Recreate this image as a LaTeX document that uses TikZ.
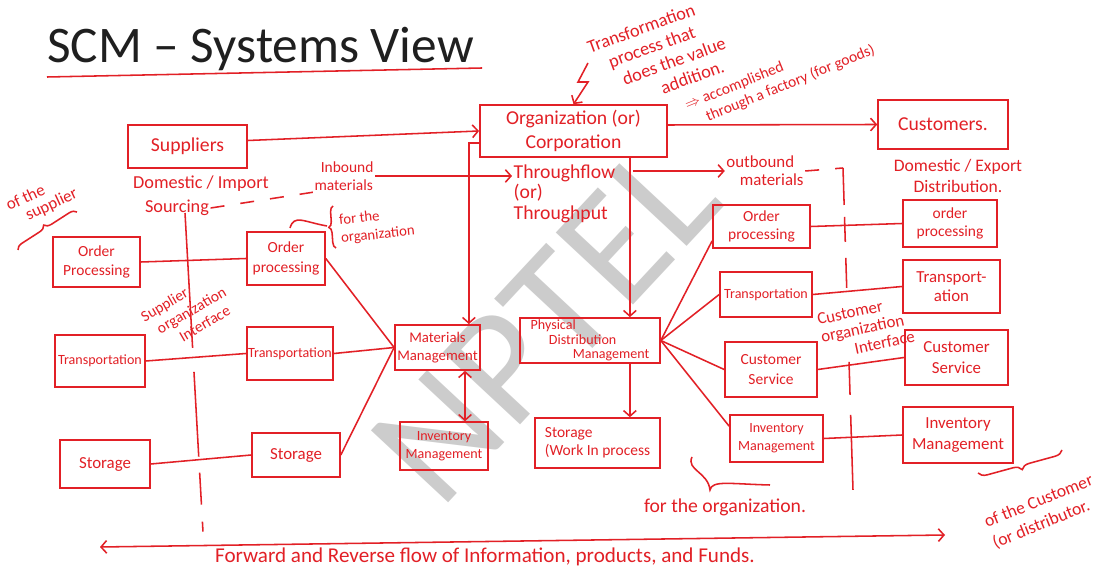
\documentclass[tikz,border=0pt]{standalone}
\usepackage{fontspec}
\setmainfont{Carlito}
\usetikzlibrary{arrows.meta,decorations.pathreplacing}
\definecolor{inkred}{RGB}{226,32,38}
\tikzset{
  box/.style 2 args={draw=inkred, line width=1.1pt, text=inkred, align=center, inner sep=1pt, minimum width=#1, minimum height=#2},
  link/.style={draw=inkred, line width=1.1pt},
  note/.style={text=inkred, align=left, inner sep=1pt},
  txt/.style 2 args={font=\fontsize{#1}{#2}\selectfont},
  dashline/.style={link, dash pattern=on 0.35cm off 0.4cm}
}
\begin{document}
\begin{tikzpicture}[x={(0.025cm,0)}, y={(0,-0.025cm)}, >={Straight Barb[length=4pt,width=9pt]}]
\fill [white](0,0) rectangle (1107,569);
\useasboundingbox (0,0) rectangle (1107,569);

\node [rotate=47, text=black!20, txt={117}{117}](wm) at (545,322) {NPTEL};

\node [anchor=base west, inner sep=0pt, text=black!88, txt={36.5}{42}](title) at (47,63) {SCM – Systems View};
\draw [link]([yshift=-0.35cm]title.base west) -- ([xshift=0.2cm,yshift=-0.125cm]title.base east);

\node [box={2.98cm}{1.08cm}, txt={14}{16}](supp) at (187.5,146.5) {Suppliers};
\node [box={4.68cm}{1.3cm}, txt={14}{17}](org) at (573.5,131) {Organization (or)\\Corporation};
\node [box={3.25cm}{1.23cm}, txt={14}{16}](cust) at (943,124.5) {Customers.};

\node [box={2.18cm}{1.25cm}, txt={11}{14}](opS) at (96.5,262) {Order\\Processing};
\node [box={2.25cm}{1.3cm}, txt={10}{12}](trS) at (100,361) {Transportation};
\node [box={2.25cm}{1.2cm}, txt={12}{14}](stS) at (105,464) {Storage};

\node [box={1.95cm}{1.33cm}, txt={11}{14}](opO) at (286,258.5) {Order\\processing};
\node [box={2.15cm}{1.33cm}, txt={10}{12}](trO) at (290,353.5) {Transportation};
\node [box={2.2cm}{1.1cm}, txt={12}{14}](stO) at (296,455) {Storage};
\node [box={2.13cm}{1.13cm}, txt={10.5}{12.5}](mm) at (437.5,347.5) {Materials\\Management};
\node [box={2.2cm}{1.2cm}, txt={10}{13}](imO) at (444,446) {Inventory\\Management};

\node [box={3.5cm}{1.13cm}, txt={10}{10.5}, align=left](pdm) at (590,340.5) {Physical\\\hspace*{1.3em}Distribution\\\hspace*{3em}Management};
\node [box={3.13cm}{1.25cm}, txt={11}{13}, align=left](wip) at (597.5,443) {Storage\\(Work In process};

\node [box={2.43cm}{1.08cm}, txt={11}{13}](opD) at (761.5,226.5) {Order\\processing};
\node [box={2.3cm}{1.13cm}, txt={10}{12}](trD) at (766,294.5) {Transportation};
\node [box={2.3cm}{1.38cm}, txt={11}{14}](csD) at (771,369.5) {Customer\\Service};
\node [box={2.33cm}{1.18cm}, txt={10}{13}](imD) at (776.5,438.5) {Inventory\\Management};

\node [box={2.35cm}{1.18cm}, txt={11}{13}](opC) at (950,223.5) {order\\processing};
\node [box={2.43cm}{1.33cm}, txt={12}{14}](trC) at (951.5,286.5) {Transport-\\ation};
\node [box={2.58cm}{1.38cm}, txt={12}{15}](csC) at (956.5,357.5) {Customer\\Service};
\node [box={2.75cm}{1.4cm}, txt={12}{15}](imC) at (958,435) {Inventory\\Management};

\node [note, txt={13}{15}](dom) at (201,184) {Domestic / Import};
\node [note, txt={13}{15}](src) at (177,208) {Sourcing};
\node [note, txt={11}{13}](inb) at (344,176) {\hspace*{0.4em}Inbound\\materials};
\node [note, txt={14}{14.5}, anchor=north west](thru) at (512,163) {Throughflow\\(or)\\Throughput};
\node [note, txt={12}{13}](outb) at (765,171) {outbound\\\hspace*{0.8em}materials};
\node [note, txt={12.5}{15}, align=center](dexp) at (958,176) {Domestic / Export\\Distribution.};
\node [note, txt={12}{12}, rotate=25](ofsup) at (42,200) {of the\\\hspace*{0.8em}supplier};
\node [note, txt={10.5}{13}, rotate=6](fororg) at (377,226) {for the\\organization};
\node [note, txt={11}{13}, rotate=30](sint) at (188,312) {Supplier\\\hspace*{0.5em}organization\\\hspace*{1.5em}Interface};
\node [note, txt={12}{13}, rotate=12](cint) at (866,328) {Customer\\organization\\\hspace*{1.8em}Interface};
\node [note, txt={14}{16}](fororgb) at (725,507) {for the organization.};
\node [note, txt={12.5}{16}, rotate=22](ofcus) at (1043,512) {of the Customer\\(or distributor.};
\node [note, txt={15}{17}](fwd) at (485,557) {Forward and Reverse flow of Information, products, and Funds.};
\node [note, txt={13}{15}, rotate=20](trans) at (660,55) {Transformation\\\hspace*{0.8em}process that\\\hspace*{1.2em}does the value\\\hspace*{3em}addition.};
\node [note, txt={11}{13}, rotate=22](acc) at (780,78) {$\Rightarrow$ accomplished\\\hspace*{1em}through a factory (for goods)};

\coordinate (zz) at (588,63);
\draw [link,->](zz) -- (578,82) -- (588,82) -- (org.north);

\draw [link,->]([yshift=0.15cm]supp.east) -- (org.west);
\draw [link,->]([yshift=0.15cm]org.east) -- (cust.west);
\draw [link,->]([yshift=-0.3cm]org.west) -| ([xshift=-0.3cm]mm.north east);
\draw [link,->](inb.east) -- (inb.east -| thru.west);
\path ([xshift=-0.95cm]org.south east) coordinate (o-out);
\draw [link,->](o-out) -- (o-out |- pdm.north);
\draw [link,->](o-out |- pdm.south) -- (o-out |- wip.north);
\draw [link,->,shorten <=0.4cm](thru.east |- outb.west) -- (outb.west);

\draw [dashline](src.east) -- (inb.south west);
\coordinate (ci-top) at (843,168);
\coordinate (ci-bot) at (853,490);
\draw [dashline](outb.east) -- (ci-top);
\draw [link, dash pattern=on 0.925cm off 0.3cm on 0.625cm off 0.4cm on 0.75cm off 1.85cm on 0.825cm off 0.5cm on 1.875cm](ci-top) -- (ci-bot);
\coordinate (si-top) at (185,213);
\coordinate (si-bot) at (203,532);
\draw [link, dash pattern=on 3.375cm off 0.6cm on 2.125cm off 0.4cm on 0.8cm off 0.425cm on 0.25cm](si-top) -- (si-bot);

\draw [link](opS.east) -- (opO.west);
\draw [link](trS.east) -- (trO.west);
\draw [link](stS.east) -- (stO.west);
\draw [link](opO.east) -- (mm.west);
\draw [link](trO.east) -- (mm.west);
\draw [link](stO.east) -- (mm.west);
\path ([xshift=0.525cm]imO.north) coordinate (i-up);
\draw [link,<->](i-up |- mm.south) -- (i-up);

\draw [link](pdm.east) -- ([yshift=0.2cm]opD.south west);
\draw [link](pdm.east) -- (trD.west);
\draw [link](pdm.east) -- (csD.west);
\draw [link](pdm.east) -- ([yshift=-0.3cm]imD.north west);
\draw [link](opD.east) -- (opC.west);
\draw [link](trD.east) -- (trC.west);
\draw [link](csD.east) -- (csC.west);
\draw [link](imD.east) -- (imC.west);

\coordinate (fl) at (100,547);
\coordinate (fr) at (945,535);
\draw [link,<->](fl) -- (fr);

\draw [link, decorate, decoration={brace, amplitude=5pt}](18,250) -- (77,212);
\draw [link, decorate, decoration={brace, amplitude=4pt}](336,248) -- (333,206);
\draw [link](290,228) .. controls (294,214) and (304,222) .. (327,226);
\draw [link](692,457) .. controls (686,470) and (708,472) .. (710,490) .. controls (712,480) and (730,484) .. (770,485);
\draw [link, decorate, decoration={brace, amplitude=6pt}](1062,450) -- (978,473);
\end{tikzpicture}
\end{document}
